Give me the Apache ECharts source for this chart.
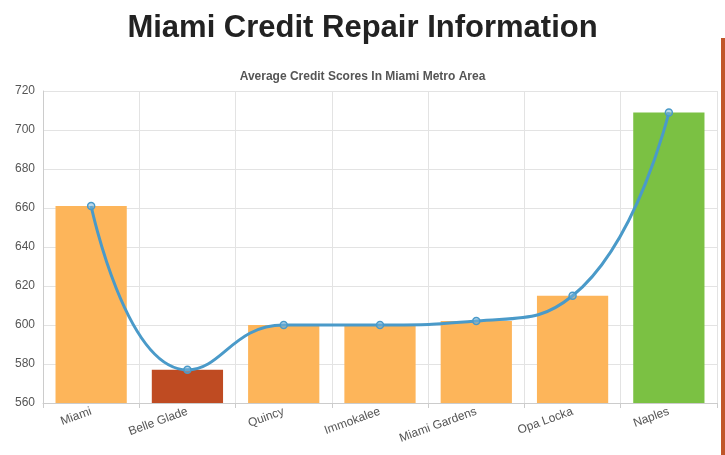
<!DOCTYPE html><html><head><meta charset="utf-8"><script src="https://cdn.jsdelivr.net/npm/echarts@6/dist/echarts.min.js"></script>
<style>html,body{margin:0;padding:0;background:#fff}#c{width:725px;height:455px}</style></head><body><div id="c"></div><script>
const categories=["Miami","Belle Glade","Quincy","Immokalee","Miami Gardens","Opa Locka","Naples"];
const barValues=[661,577,600,600,602,615,709];
const lineValues=[661,577,600,600,602,615,709];
const barColors=["#fdb55a","#bf4b22","#fdb55a","#fdb55a","#fdb55a","#fdb55a","#7bc143"];
const chart=echarts.init(document.getElementById('c'));
chart.setOption({
 title:[{text:"Miami Credit Repair Information",left:'center',top:8,textStyle:{fontFamily:'Liberation Sans',fontWeight:'bold',fontSize:31,color:'#222'}},
 {text:"Average Credit Scores In Miami Metro Area",left:'center',top:66,textStyle:{fontFamily:'Liberation Sans',fontWeight:'bold',fontSize:12,color:'#555'}}],
 grid:{left:43,right:8,top:91,bottom:52},
 xAxis:{type:'category',data:categories,boundaryGap:true,axisTick:{show:true,alignWithLabel:false,lineStyle:{color:'#ccc'}},axisLine:{lineStyle:{color:'#ccc'}},
  splitLine:{show:true,lineStyle:{color:'#e3e3e3'}},axisLabel:{rotate:20,color:'#555',fontSize:12,fontFamily:'Liberation Sans',interval:0}},
 yAxis:{type:'value',min:560,max:720,interval:20,axisLine:{show:true,lineStyle:{color:'#ccc'}},axisLabel:{color:'#555',fontSize:12,fontFamily:'Liberation Sans'},splitLine:{lineStyle:{color:'#e3e3e3'}}},
 series:[{type:'bar',data:barValues.map((v,i)=>({value:v,itemStyle:{color:barColors[i]}})),barWidth:'74%'},
 {type:'line',data:lineValues,smooth:0.5,symbol:'circle',symbolSize:7,lineStyle:{color:'#4a9ac9',width:3},itemStyle:{color:'rgba(120,180,220,0.5)',borderColor:'#4a9ac9',borderWidth:1.5}}],
 graphic:[{type:'rect',shape:{x:721,y:38,width:4,height:417},style:{fill:'#c0562a'}}]
});
</script></body></html>
